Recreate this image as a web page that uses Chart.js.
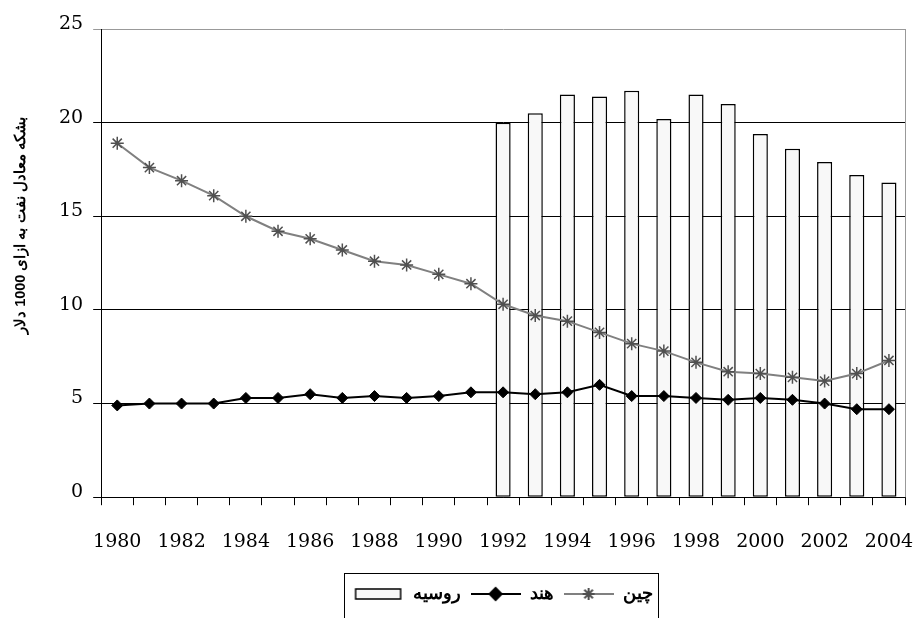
<!DOCTYPE html>
<html>
<head>
<meta charset="utf-8">
<script src="https://cdn.jsdelivr.net/npm/chart.js@4.4.1/dist/chart.umd.min.js"></script>
<style>
  html, body { margin:0; padding:0; background:#fff; overflow:hidden; }
  #wrap { width:916px; height:618px; position:relative; }
</style>
</head>
<body>
<div id="wrap"><canvas id="energyChart"></canvas></div>
<script>
const years = ['1980','1981','1982','1983','1984','1985','1986','1987','1988','1989','1990','1991','1992',
               '1993','1994','1995','1996','1997','1998','1999','2000','2001','2002','2003','2004'];
const russia = [null,null,null,null,null,null,null,null,null,null,null,null,
                20.0,20.5,21.5,21.4,21.7,20.2,21.5,21.0,19.4,18.6,17.9,17.2,16.8];
const india = [4.9,5.0,5.0,5.0,5.3,5.3,5.5,5.3,5.4,5.3,5.4,5.6,
               5.6,5.5,5.6,6.0,5.4,5.4,5.3,5.2,5.3,5.2,5.0,4.7,4.7];
const china = [18.9,17.6,16.9,16.1,15.0,14.2,13.8,13.2,12.6,12.4,11.9,11.4,
               10.3,9.7,9.4,8.8,8.2,7.8,7.2,6.7,6.6,6.4,6.2,6.6,7.3];
const yTicks = [0,5,10,15,20,25];
const yTitle = 'بشکه معادل نفت به ازای 1000 دلار';
const names = { russia: 'روسیه', india: 'هند', china: 'چین' };

// little canvases used as legend symbols (line + marker, or the bar box)
function legendIcon(kind){
  const c = document.createElement('canvas');
  c.width = 50; c.height = 16;
  const g = c.getContext('2d');
  if (kind === 'bar') {
    g.fillStyle = '#f8f8f8'; g.strokeStyle = '#000'; g.lineWidth = 1.5;
    g.fillRect(2, 3, 45, 10); g.strokeRect(2, 3, 45, 10);
  } else {
    const col = kind === 'india' ? '#000' : '#808080';
    g.strokeStyle = col; g.lineWidth = 2;
    g.beginPath(); g.moveTo(0, 8); g.lineTo(50, 8); g.stroke();
    g.fillStyle = '#000';
    g.strokeStyle = kind === 'india' ? '#000' : '#505050';
    Chart.helpers.drawPoint(g, {
      pointStyle: kind === 'india' ? 'rectRot' : 'star',
      radius: 6, borderWidth: 1.5
    }, 25, 8);
  }
  return c;
}
const icons = { russia: legendIcon('bar'), india: legendIcon('india'), china: legendIcon('china') };

const extras = {
  id: 'extras',
  afterDraw(chart){
    const {ctx, chartArea:a} = chart;
    ctx.save();
    // right frame edge
    ctx.strokeStyle = '#999'; ctx.lineWidth = 1;
    ctx.beginPath(); ctx.moveTo(a.right + 0.5, a.top); ctx.lineTo(a.right + 0.5, a.bottom); ctx.stroke();
    // y title
    ctx.translate(21, a.top + (a.bottom - a.top) * 0.42);
    ctx.rotate(-Math.PI / 2);
    ctx.fillStyle = '#000';
    ctx.font = 'bold 14.5px "Liberation Sans", Arial, sans-serif';
    ctx.textAlign = 'center'; ctx.textBaseline = 'middle';
    ctx.fillText(yTitle, 0, 0);
    ctx.restore();
    // legend frame
    const hb = chart.legend && chart.legend.legendHitBoxes;
    if (hb && hb.length) {
      const l = Math.min(...hb.map(h => h.left)) - 10;
      const r = Math.max(...hb.map(h => h.left + h.width)) + 5;
      const t = Math.min(...hb.map(h => h.top)) - 12;
      ctx.save();
      ctx.strokeStyle = '#000'; ctx.lineWidth = 1;
      ctx.strokeRect(Math.round(l) + 0.5, Math.round(t) + 0.5, Math.round(r - l), 60);
      ctx.restore();
    }
  }
};

new Chart(document.getElementById('energyChart'), {
  type: 'bar',
  data: {
    labels: years,
    datasets: [
      {
        type: 'line', label: names.china, key: 'china', data: china,
        borderColor: '#808080', borderWidth: 2, tension: 0,
        pointStyle: 'star', pointRadius: 6.5, pointBorderWidth: 1.5,
        pointBorderColor: '#505050', pointBackgroundColor: '#505050'
      },
      {
        type: 'line', label: names.india, key: 'india', data: india,
        borderColor: '#000', borderWidth: 2, tension: 0,
        pointStyle: 'rectRot', pointRadius: 5.5, pointBorderWidth: 1,
        pointBorderColor: '#000', pointBackgroundColor: '#000'
      },
      {
        type: 'bar', label: names.russia, key: 'russia', data: russia,
        backgroundColor: '#f8f8f8', borderColor: '#000', borderWidth: 1.5,
        borderSkipped: false, categoryPercentage: 1, barPercentage: 0.47
      }
    ]
  },
  options: {
    responsive: true, maintainAspectRatio: false, animation: false,
    layout: { autoPadding: false, padding: { left: 49, right: 11, top: 29, bottom: 5 } },
    plugins: {
      tooltip: { enabled: false },
      legend: {
        position: 'bottom', reverse: true, fullSize: false,
        labels: {
          usePointStyle: true, pointStyleWidth: 50, boxHeight: 16,
          color: '#000', padding: 10,
          font: { family: '"Liberation Sans", Arial, sans-serif', size: 18, weight: 'bold' },
          generateLabels(chart){
            const items = Chart.defaults.plugins.legend.labels.generateLabels(chart);
            items.forEach(it => { it.pointStyle = icons[chart.data.datasets[it.datasetIndex].key]; });
            return items;
          }
        }
      }
    },
    scales: {
      x: {
        offset: true,
        afterFit: s => { s.paddingLeft = 0; s.paddingRight = 0; s.height -= 3; },
        grid: { display: true, drawOnChartArea: false, drawTicks: true, tickLength: 8, color: '#000', offset: true },
        border: { color: '#000', width: 1 },
        ticks: {
          autoSkip: false, maxRotation: 0, color: '#000', padding: 25,
          font: { family: '"DejaVu Serif", serif', size: 19 },
          callback: (v, i) => (i % 2 === 0 ? years[i] : '')
        }
      },
      y: {
        min: 0, max: 25,
        afterBuildTicks: s => { s.ticks = yTicks.map(v => ({ value: v })); },
        afterFit: s => { s.paddingTop = 0; s.paddingBottom = 0; },
        grid: { color: c => (c.tick && c.tick.value === 25 ? '#999' : '#000'), tickLength: 8, lineWidth: 1 },
        border: { color: '#000', width: 1 },
        ticks: {
          color: '#000', padding: 10, labelOffset: -5,
          font: { family: '"DejaVu Serif", serif', size: 19 }
        }
      }
    }
  },
  plugins: [extras]
});
</script>
</body>
</html>
